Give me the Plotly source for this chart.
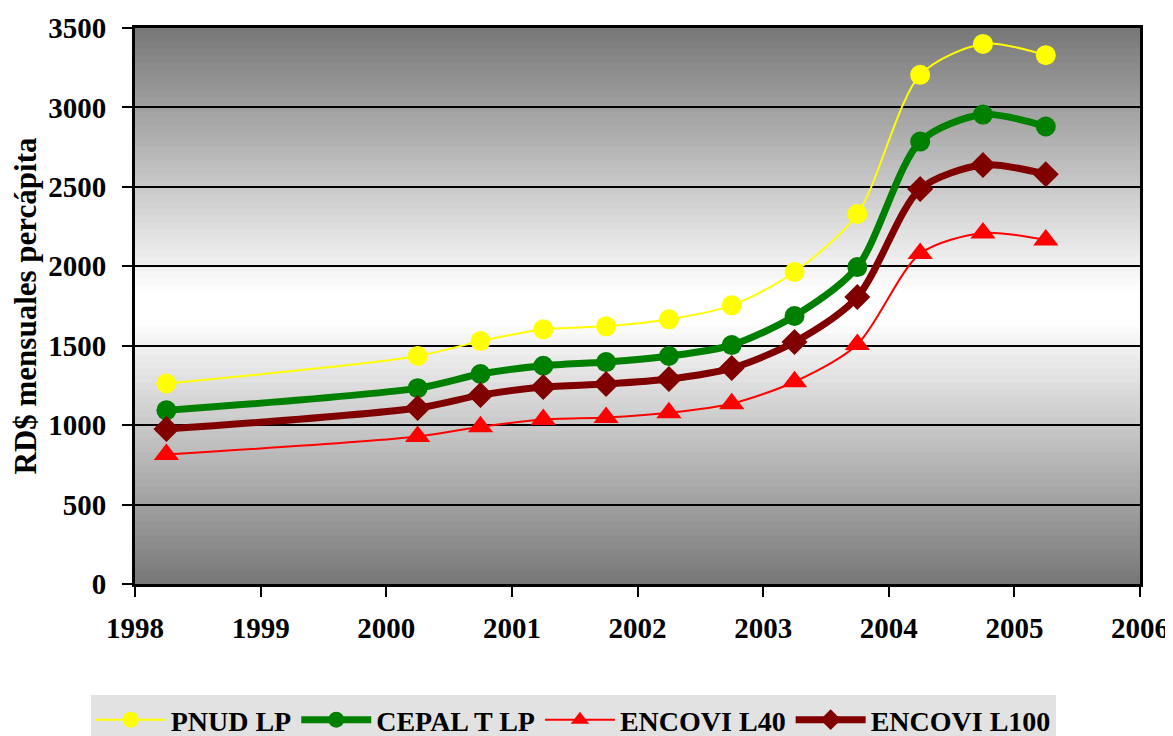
import plotly.graph_objects as go

x_years = [1998.25, 2000.25, 2000.75, 2001.25, 2001.75, 2002.25, 2002.75,
           2003.25, 2003.75, 2004.25, 2004.75, 2005.25]
pnud_lp = [1262, 1435, 1529, 1603, 1622, 1666, 1754, 1964, 2329, 3205, 3400, 3329]
cepal_t_lp = [1093, 1233, 1322, 1374, 1397, 1435, 1504, 1687, 1995, 2785, 2955, 2880]
encovi_l40 = [815, 928, 990, 1035, 1048, 1078, 1135, 1273, 1508, 2080, 2210, 2165]
encovi_l100 = [975, 1108, 1189, 1240, 1259, 1290, 1359, 1523, 1806, 2486, 2637, 2580]

x_ticks = [1998, 1999, 2000, 2001, 2002, 2003, 2004, 2005, 2006]
y_ticks = [0, 500, 1000, 1500, 2000, 2500, 3000, 3500]

font_family = "Liberation Serif"

fig = go.Figure()

series = [
    ("PNUD LP", pnud_lp, "#FFFF00", 2, "circle", 20),
    ("CEPAL T LP", cepal_t_lp, "#008000", 7, "circle", 20),
    ("ENCOVI L40", encovi_l40, "#FF0000", 2, "triangle-up", 22),
    ("ENCOVI L100", encovi_l100, "#800000", 7, "diamond", 20),
]
for name, vals, color, lw, sym, ms in series:
    fig.add_trace(go.Scatter(
        x=x_years, y=vals, name=name, mode="lines+markers",
        line=dict(color=color, width=lw, shape="spline", smoothing=0.8),
        marker=dict(symbol=sym, size=ms, color=color, line=dict(width=0)),
    ))

# vertical gradient background (gray -> white -> gray)
n = 80
shapes = []
for i in range(n):
    y0 = i / n
    y1 = (i + 1) / n
    yc = (y0 + y1) / 2
    d = abs(yc - 0.5) / 0.5
    d = min(1.0, max(0.0, (d - 0.05) / 0.95))
    v = int(round(255 - d * 136))
    col = f"rgb({v},{v},{v})"
    shapes.append(dict(type="rect", xref="paper", yref="paper",
                       x0=0, x1=1, y0=y0, y1=y1 + 0.002,
                       fillcolor=col, line=dict(width=0), layer="below"))

tick_font = dict(family=font_family, size=29, color="black", weight="bold")

fig.update_layout(
    width=1170, height=728,
    margin=dict(l=127, r=38, t=20, b=152, autoexpand=False),
    paper_bgcolor="white",
    plot_bgcolor="white",
    shapes=shapes,
    font=dict(family=font_family, size=22, color="black"),
    showlegend=True,
    legend=dict(
        orientation="h", x=0.436, xanchor="center", y=-0.2446, yanchor="middle",
        bgcolor="#e2e2e2", itemwidth=70,
        font=dict(family=font_family, size=28, color="black", weight="bold"),
        tracegroupgap=0,
    ),
    xaxis=dict(
        range=[1998, 2006], tickvals=x_ticks, ticktext=[str(t) for t in x_ticks],
        showgrid=False, zeroline=False,
        showline=True, linecolor="black", linewidth=3, mirror=True,
        ticks="outside", ticklen=10, tickwidth=2, tickcolor="black",
        ticklabelstandoff=6,
        tickfont=tick_font,
    ),
    yaxis=dict(
        range=[0, 3500], tickvals=y_ticks, ticktext=[str(t) for t in y_ticks],
        showgrid=True, gridcolor="black", gridwidth=2, zeroline=False,
        showline=True, linecolor="black", linewidth=3, mirror=True,
        ticks="outside", ticklen=10, tickwidth=2, tickcolor="black",
        ticklabelstandoff=10,
        tickfont=tick_font,
        title=dict(text="RD$ mensuales percápita",
                   font=dict(family=font_family, size=31, color="black",
                             weight="bold"),
                   standoff=12),
    ),
)

fig.write_html("out.html")
